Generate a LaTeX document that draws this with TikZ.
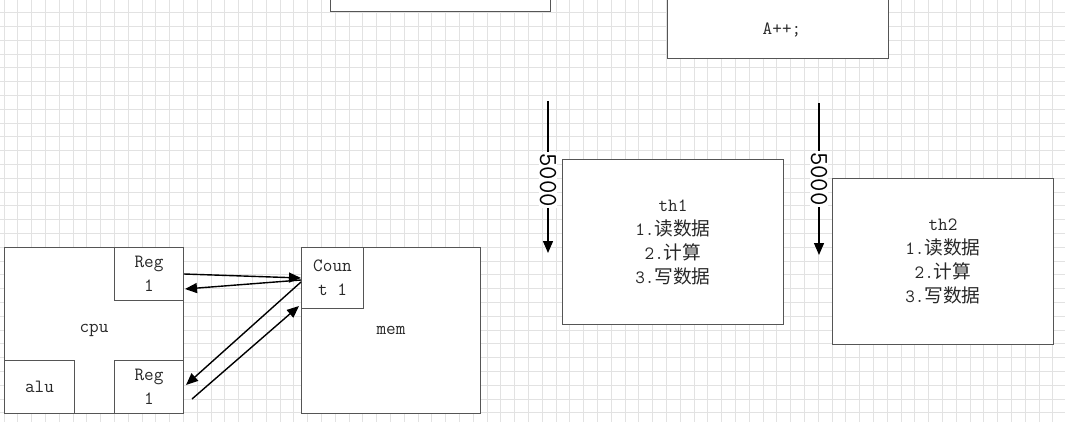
\documentclass[tikz,border=0pt]{standalone}
\usepackage{fontspec}
\newfontfamily\cjk{Noto Sans CJK SC}
\usetikzlibrary{arrows.meta,calc}
\definecolor{boxgray}{RGB}{85,85,85}
\definecolor{txt}{RGB}{40,40,40}
\definecolor{gridc}{RGB}{226,226,226}
\newcommand\zh[1]{{\cjk #1}}
\begin{document}
\begin{tikzpicture}[x=1pt,y=-1pt,
  box/.style={draw=boxgray, line width=1pt, fill=white, inner sep=0pt, align=center, text=txt,
    font=\ttfamily\fontsize{18.7}{24}\selectfont},
  plain/.style={inner sep=0pt, align=center, text=txt, font=\ttfamily\fontsize{18.7}{23.4}\selectfont},
  arr/.style={line width=1.4pt, -{Triangle[length=12pt,width=10pt]}},
  vlabel/.style={fill=white, inner sep=1pt, rotate=-90, text=black, font=\ttfamily\fontsize{26}{26}\selectfont},
]
\useasboundingbox (0,0) rectangle (1065,422);
\fill[white] (0,0) rectangle (1065,422);
\begin{scope}
\clip (0,0) rectangle (1065,422);
\foreach \i in {0,...,77} \draw[gridc, line width=1pt] ({4+13.8*\i},0) -- ({4+13.8*\i},422);
\foreach \j in {0,...,30} \draw[gridc, line width=1pt] (0,{12.7+13.8*\j}) -- (1065,{12.7+13.8*\j});
\end{scope}

% top boxes (partly cut off)
\node[box, anchor=south west, minimum width=220pt, minimum height=60pt] (code1) at (330,12) {};
\node[box, anchor=south west, minimum width=221pt, minimum height=100pt] (code2) at (667,59) {};
\node[plain] (inc) at (782,30) {A++;};

% cpu
\node[box, anchor=north west, minimum width=179pt, minimum height=166pt] (cpu) at (4,247) {cpu};
\node[box, anchor=north west, minimum width=69pt, minimum height=53pt] (reg1) at (114,247) {Reg\\1};
\node[box, anchor=north west, minimum width=69pt, minimum height=53pt] (reg2) at (114,360) {Reg\\1};
\node[box, anchor=north west, minimum width=70pt, minimum height=53pt] (alu) at (4,360) {alu};

% mem
\node[box, anchor=north west, minimum width=179pt, minimum height=166pt] (mem) at (301,247) {mem};
\node[box, anchor=north west, minimum width=62pt, minimum height=61pt] (count) at (301,247) {Coun\\t 1};

% connectors
\coordinate (free) at (192,399);
\draw[arr] (reg1.east) -- (count.west);
\draw[arr] ($(count.west)+(0,2)$) -- ($(reg1.east)+(1,15)$);
\draw[arr] ($(count.west)+(0,4)$) -- ($(reg2.east)+(2,-2)$);
\draw[arr] (free) -- ($(count.south west)+(-2,-3)$);

% threads
\node[box, anchor=north west, minimum width=221pt, minimum height=165pt] (th1) at (562,159)
  {th1\\1.\zh{读数据}\\2.\zh{计算}\\3.\zh{写数据}};
\node[box, anchor=north west, minimum width=221pt, minimum height=166pt] (th2) at (832,178)
  {th2\\1.\zh{读数据}\\2.\zh{计算}\\3.\zh{写数据}};

\coordinate (s1) at (548,101);
\coordinate (e1) at (548,253);
\coordinate (s2) at (819,103);
\coordinate (e2) at (819,255);
\draw[arr] (s1) -- node[vlabel, pos=0.52] {5000} (e1);
\draw[arr] (s2) -- node[vlabel, pos=0.5] {5000} (e2);
\end{tikzpicture}
\end{document}
